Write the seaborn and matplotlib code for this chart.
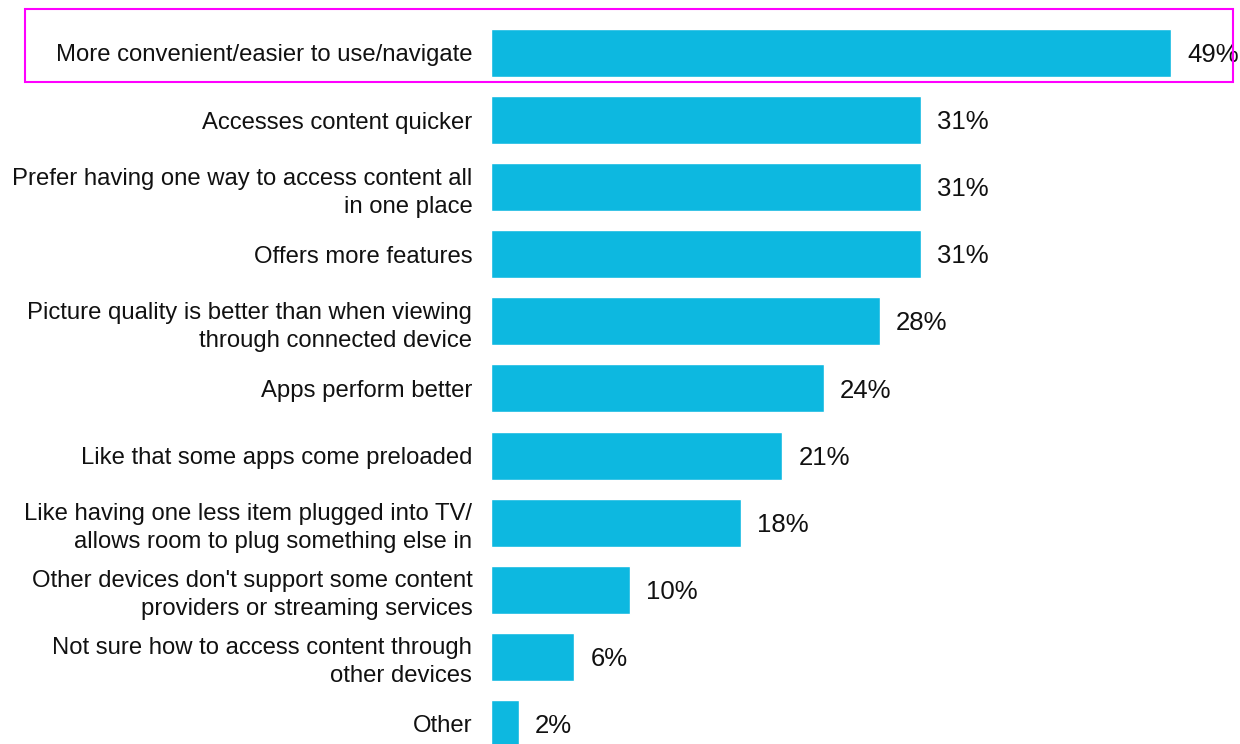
import matplotlib
matplotlib.use("Agg")
import matplotlib.pyplot as plt
import seaborn as sns
import pandas as pd
from matplotlib.patches import Rectangle

categories = [
    "More convenient/easier to use/navigate",
    "Accesses content quicker",
    "Prefer having one way to access content all\nin one place",
    "Offers more features",
    "Picture quality is better than when viewing\nthrough connected device",
    "Apps perform better",
    "Like that some apps come preloaded",
    "Like having one less item plugged into TV/\nallows room to plug something else in",
    "Other devices don't support some content\nproviders or streaming services",
    "Not sure how to access content through\nother devices",
    "Other",
]
values = [49, 31, 31, 31, 28, 24, 21, 18, 10, 6, 2]
value_labels = ["49%", "31%", "31%", "31%", "28%", "24%", "21%", "18%", "10%", "6%", "2%"]

df = pd.DataFrame({"reason": categories, "share": values})

sns.set_theme(style="white")
plt.rcParams["font.family"] = ["Liberation Sans", "DejaVu Sans"]

fig = plt.figure(figsize=(12.4, 7.44), dpi=100)
ax = fig.add_axes([491 / 1240, 0, 1 - 491 / 1240, 1])

sns.barplot(data=df, x="share", y="reason", orient="h", color="#0DB8E0",
            saturation=1, width=0.715, ax=ax)

ax.set_xlim(0, (1240 - 491) / 13.88)
ax.set_ylim(10.30, -0.79)
ax.set_xlabel("")
ax.set_ylabel("")
ax.set_xticks([])
for s in ax.spines.values():
    s.set_visible(False)
ax.tick_params(axis="y", length=0, pad=13.5)
for t in ax.get_yticklabels():
    t.set_fontsize(17.2)
    t.set_color("#111111")
    t.set_linespacing(1.36)
    t.set_horizontalalignment("right")

for i, (v, lab) in enumerate(zip(values, value_labels)):
    ax.annotate(lab, xy=(v, i), xytext=(11.5, -1.5), textcoords="offset points",
                va="center", ha="left", fontsize=18.5, color="#111111")

# highlight frame around the top reason
fig.add_artist(Rectangle((25 / 1240, 1 - 82 / 744), (1233 - 25) / 1240, (82 - 9) / 744,
                         transform=fig.transFigure, fill=False,
                         edgecolor="#FF00FF", linewidth=1.5, zorder=10))

fig.savefig("out.png", dpi=100)
